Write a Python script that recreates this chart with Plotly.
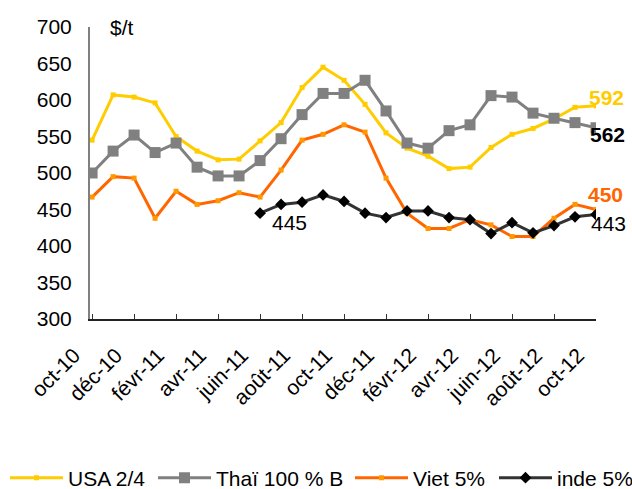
import plotly.graph_objects as go

months = ["oct-10", "nov-10", "déc-10", "janv-11", "févr-11", "mars-11", "avr-11", "mai-11",
          "juin-11", "juil-11", "août-11", "sept-11", "oct-11", "nov-11", "déc-11", "janv-12",
          "févr-12", "mars-12", "avr-12", "mai-12", "juin-12", "juil-12", "août-12", "sept-12", "oct-12"]
tick_labels = months[::2]

usa = [545, 607, 604, 596, 550, 530, 518, 519, 544, 569, 617, 645, 627, 594, 555, 534,
       523, 506, 508, 535, 553, 561, 574, 590, 592]
thai = [500, 530, 552, 528, 541, 508, 496, 496, 517, 547, 580, 609, 609, 627, 585, 541,
        534, 558, 566, 606, 604, 582, 575, 569, 562]
viet = [467, 495, 493, 438, 475, 457, 462, 473, 467, 504, 545, 553, 566, 556, 493, 445,
        424, 424, 436, 429, 413, 413, 438, 457, 450]
inde_months = months[8:]
inde = [445, 457, 460, 470, 461, 445, 439, 448, 448, 439, 436, 417, 432, 418, 428, 440, 443]

FONT = "Liberation Sans, Arial, sans-serif"
FS = 21

fig = go.Figure()
fig.add_trace(go.Scatter(x=months, y=usa, name="USA 2/4", mode="lines+markers", legend="legend",
                         line=dict(color="#FFCC00", width=3),
                         marker=dict(symbol="square", size=5, color="#FFCC00")))
fig.add_trace(go.Scatter(x=months, y=thai, name="Thaï 100 % B", mode="lines+markers", legend="legend2",
                         line=dict(color="#808080", width=3),
                         marker=dict(symbol="square", size=11, color="#808080")))
fig.add_trace(go.Scatter(x=months, y=viet, name="Viet 5%", mode="lines+markers", legend="legend3",
                         line=dict(color="#FF6600", width=3),
                         marker=dict(symbol="square", size=5, color="#FF9900")))
fig.add_trace(go.Scatter(x=inde_months, y=inde, name="inde 5%", mode="lines+markers", legend="legend4",
                         line=dict(color="#333333", width=3),
                         marker=dict(symbol="diamond", size=9, color="#000000")))

ann = [
    dict(x=months[-1], y=usa[-1], text="<b>592</b>", font=dict(color="#FFCC00"), xshift=-9, yshift=8),
    dict(x=months[-1], y=thai[-1], text="<b>562</b>", font=dict(color="#000000"), xshift=-8, yshift=-7),
    dict(x=months[-1], y=viet[-1], text="<b>450</b>", font=dict(color="#FF6600"), xshift=-10, yshift=15),
    dict(x=months[-1], y=inde[-1], text="443", font=dict(color="#000000"), xshift=-7, yshift=-9),
    dict(x=inde_months[0], y=inde[0], text="445", font=dict(color="#000000"), xshift=10, yshift=-9),
]
annotations = []
for a in ann:
    a.update(xref="x", yref="y", showarrow=False, xanchor="left", yanchor="middle")
    a["font"].update(size=FS, family=FONT)
    annotations.append(a)
annotations.append(dict(xref="paper", yref="paper", x=0.035, y=1.0, text="$/t", showarrow=False,
                        xanchor="left", yanchor="middle", font=dict(size=FS, family=FONT, color="#000")))


def leg(px):
    return dict(orientation="h", xref="container", yref="container",
                x=px / 632, xanchor="left", y=1 - 478 / 489, yanchor="middle",
                font=dict(size=FS, family=FONT), itemwidth=53, tracegroupgap=0,
                bgcolor="rgba(0,0,0,0)")


fig.update_layout(
    width=632, height=489,
    margin=dict(l=90, r=36, t=27, b=170, autoexpand=False),
    paper_bgcolor="white", plot_bgcolor="white",
    font=dict(family=FONT, size=FS, color="#000"),
    showlegend=True,
    legend=leg(5), legend2=leg(153), legend3=leg(350), legend4=leg(494),
    annotations=annotations,
)
fig.update_xaxes(type="category", categoryorder="array", categoryarray=months,
                 range=[-0.1, 24], tickvals=tick_labels, ticktext=tick_labels,
                 tickangle=-45, ticks="inside", ticklen=5, tickcolor="#333",
                 showline=True, linecolor="#222", linewidth=1.5, showgrid=False,
                 zeroline=False, tickfont=dict(size=FS, family=FONT), automargin=False,
                 ticklabelstandoff=14, ticklabelshift=-18)
fig.update_yaxes(range=[300, 700], dtick=50, showline=True, linecolor="#808080", linewidth=2,
                 ticks="", showgrid=False, zeroline=False, ticklabelstandoff=12,
                 tickfont=dict(size=FS, family=FONT), automargin=False)

fig.write_html("out.html", config={"displayModeBar": False},
               post_script="document.body.style.margin='0';document.body.style.overflow='hidden';")
